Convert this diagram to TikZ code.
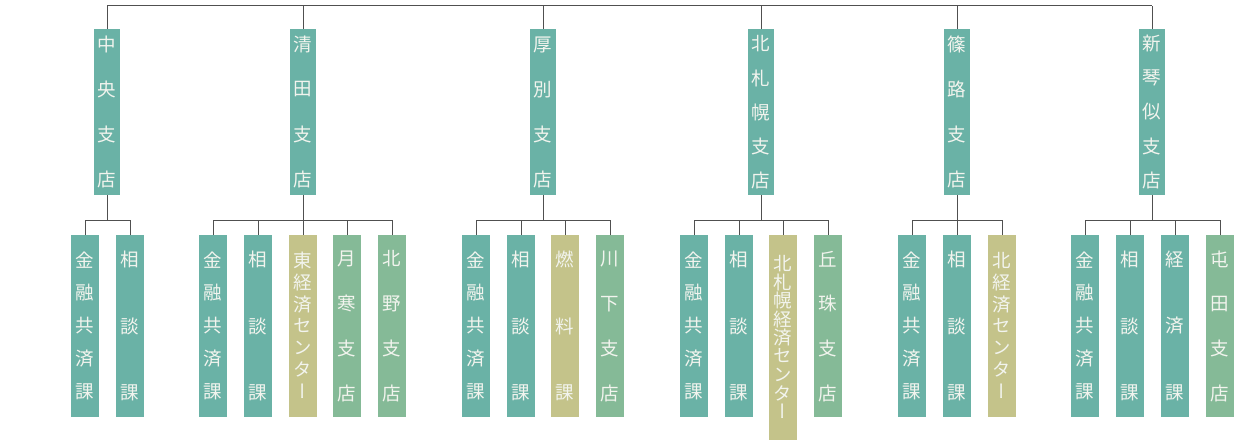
\documentclass[tikz,border=0pt]{standalone}
\usepackage{fontspec}
\newfontfamily\cjk[RawFeature=+vert]{Noto Sans CJK JP}
\ExplSyntaxOn
\NewDocumentCommand\VS{mm}{\vbox{\offinterlineskip\tl_map_inline:nn{#2}{\vbox~to~#1pt{\vss\hbox~to~1.2em{\hss##1\hss}\vss}}}}
\ExplSyntaxOff
\definecolor{teal1}{RGB}{106,178,166}
\definecolor{olive1}{RGB}{196,195,138}
\definecolor{green1}{RGB}{133,186,151}
\definecolor{linec}{RGB}{80,80,80}
\definecolor{txtc}{RGB}{242,244,238}
\tikzset{
  ln/.style={draw=linec, line width=1pt},
  brbox/.style={rectangle, inner sep=0pt, fill=teal1, minimum width=26pt, minimum height=166pt},
  chbox/.style={rectangle, inner sep=0pt, minimum width=28pt, minimum height=182pt},
  tl/.style={fill=teal1}, ol/.style={fill=olive1}, gr/.style={fill=green1},
  txt/.style={inner sep=0pt, text=txtc, font=\cjk\fontsize{18.5}{18.5}\selectfont},
}
\newcommand\branch[4]{\node[brbox] (#1) at (#2,112) {};
  \node[txt] (#1t) at (#1.center) {\VS{#3}{#4}};}
\newcommand\child[5]{\node[chbox,#3] (#1) at (#2,326) {};
  \node[txt] (#1t) at (#1.center) {\VS{#4}{#5}};}
\begin{document}
\begin{tikzpicture}[x=1pt,y=-1pt]
\useasboundingbox (0,0) rectangle (1235,440);
% branches
\branch{b1}{107}{45}{中央支店}
\branch{b2}{303}{45}{清田支店}
\branch{b3}{543}{45}{厚別支店}
\branch{b4}{761}{34}{北札幌支店}
\branch{b5}{957}{45}{篠路支店}
\branch{b6}{1152}{34}{新琴似支店}
% children
\child{c11}{85}{tl}{33}{金融共済課}
\child{c12}{130}{tl}{67}{相談課}
\child{c21}{213}{tl}{33}{金融共済課}
\child{c22}{258}{tl}{67}{相談課}
\child{c23}{303}{ol}{21.7}{東経済センター}
\child{c24}{347}{gr}{44.7}{月寒支店}
\child{c25}{392}{gr}{44.7}{北野支店}
\child{c31}{476}{tl}{33}{金融共済課}
\child{c32}{521}{tl}{67}{相談課}
\child{c33}{565}{ol}{67}{燃料課}
\child{c34}{610}{gr}{44.7}{川下支店}
\child{c41}{694}{tl}{33}{金融共済課}
\child{c42}{739}{tl}{67}{相談課}
\node[chbox,ol,minimum height=205pt] (c43) at (783,337.5) {};
\node[txt] (c43t) at (c43.center) {\VS{18.5}{北札幌経済センター}};
\child{c44}{828}{gr}{44.7}{丘珠支店}
\child{c51}{912}{tl}{33}{金融共済課}
\child{c52}{957}{tl}{67}{相談課}
\child{c53}{1002}{ol}{21.7}{北経済センター}
\child{c61}{1085}{tl}{33}{金融共済課}
\child{c62}{1130}{tl}{67}{相談課}
\child{c63}{1175}{tl}{67}{経済課}
\child{c64}{1220}{gr}{44.7}{屯田支店}
% top bar
\coordinate (top) at (0,5.5);
\draw[ln] (b1.north |- top) -- (b6.north |- top);
\foreach \b in {b1,b2,b3,b4,b5,b6}{\draw[ln] (\b.north) -- (\b.north |- top);}
% child connectors
\coordinate (mid) at (0,220);
\foreach \b/\f/\l in {b1/c11/c12,b2/c21/c25,b3/c31/c34,b4/c41/c44,b5/c51/c53,b6/c61/c64}{
  \draw[ln] (\b.south) -- (\b.south |- mid);
  \draw[ln] (\f.north) -- (\f.north |- mid) -- (\l.north |- mid) -- (\l.north);
}
\foreach \c in {c22,c23,c24,c32,c33,c42,c43,c52,c62,c63}{\draw[ln] (\c.north) -- (\c.north |- mid);}
\end{tikzpicture}
\end{document}
